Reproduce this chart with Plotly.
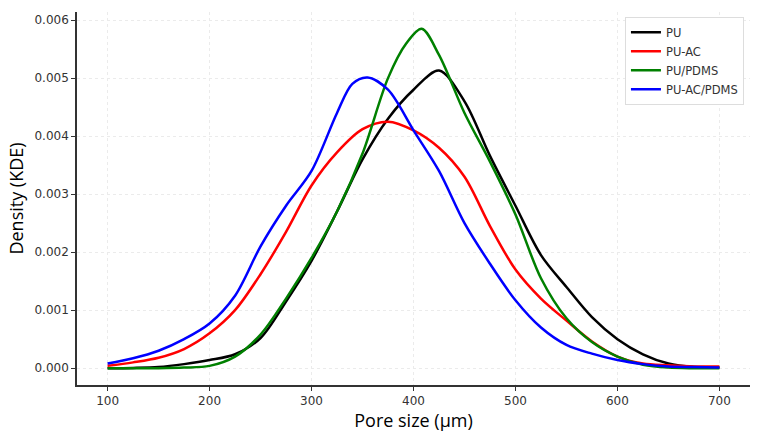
import plotly.graph_objects as go

# ---- data ----
pu_x = [100, 125, 150, 175, 200, 225, 250, 275, 300, 325, 350, 375, 400, 425, 450, 475, 500, 525, 550, 575, 600, 625, 650, 675, 700]
pu_y = [0.0, 0.000005, 0.00002, 0.00007, 0.00014, 0.00024, 0.00052, 0.00115, 0.00185, 0.0027, 0.0036, 0.0043, 0.0048, 0.00513, 0.0046, 0.00366, 0.0028, 0.00195, 0.0014, 0.00088, 0.0005, 0.00024, 0.00008, 0.00002, 0.00001]

pac_x = [100, 125, 150, 175, 200, 225, 250, 275, 300, 325, 350, 375, 400, 425, 450, 475, 500, 525, 550, 575, 600, 625, 650, 675, 700]
pac_y = [0.00004, 0.0001, 0.00018, 0.00033, 0.0006, 0.001, 0.00162, 0.00235, 0.00315, 0.00372, 0.00412, 0.00425, 0.0041, 0.0038, 0.0033, 0.00245, 0.0017, 0.0012, 0.00082, 0.00046, 0.0002, 0.00008, 0.00005, 0.00003, 0.00003]

ppd_x = [100, 125, 150, 175, 200, 225, 250, 275, 300, 325, 350, 375, 393, 408, 425, 450, 475, 500, 525, 550, 575, 600, 625, 650, 675, 700]
ppd_y = [0.0, 0.0, 0.0, 0.00001, 0.00004, 0.0002, 0.00058, 0.0012, 0.0019, 0.0027, 0.0037, 0.005, 0.0056, 0.00585, 0.0054, 0.0044, 0.00356, 0.00265, 0.00155, 0.00086, 0.00045, 0.0002, 0.00006, 0.00001, 0.0, 0.0]

pacpd_x = [100, 125, 150, 175, 200, 225, 250, 275, 300, 325, 340, 355, 375, 400, 425, 450, 475, 500, 525, 550, 575, 600, 625, 650, 675, 700]
pacpd_y = [0.00008, 0.00017, 0.0003, 0.0005, 0.00077, 0.00125, 0.0021, 0.0028, 0.0034, 0.0044, 0.0049, 0.00501, 0.0048, 0.0041, 0.0034, 0.0025, 0.0018, 0.00117, 0.0007, 0.0004, 0.00025, 0.00014, 0.00007, 0.00003, 0.00002, 0.00001]

names = ["PU", "PU-AC", "PU/PDMS", "PU-AC/PDMS"]
colors = ["#000000", "#ff0000", "#008000", "#0000ff"]
xs = [pu_x, pac_x, ppd_x, pacpd_x]
ys = [pu_y, pac_y, ppd_y, pacpd_y]

x_ticks = [100, 200, 300, 400, 500, 600, 700]
y_ticks = [0.0, 0.001, 0.002, 0.003, 0.004, 0.005, 0.006]

fig = go.Figure()
for n, c, x, y in zip(names, colors, xs, ys):
    fig.add_trace(go.Scatter(x=x, y=y, name=n, mode="lines",
                             line=dict(color=c, width=2.5, shape="spline", smoothing=0.9)))

tick_font = dict(family="DejaVu Sans", size=12, color="#333333")
fig.update_layout(
    width=761, height=433,
    margin=dict(l=77, r=11, t=12, b=48),
    paper_bgcolor="white", plot_bgcolor="white",
    showlegend=True,
    legend=dict(x=0.991, y=0.987, xanchor="right", yanchor="top",
                bgcolor="white", bordercolor="#dddddd", borderwidth=1,
                font=dict(family="DejaVu Sans", size=11.5, color="#333333"),
                itemwidth=30, tracegroupgap=0),
    xaxis=dict(range=[70, 730], tickvals=x_ticks, ticktext=[str(v) for v in x_ticks],
               showline=True, linecolor="#333333", linewidth=1.5, mirror=False,
               ticks="outside", ticklen=4, tickcolor="#333333",
               showgrid=True, gridcolor="#ebebeb", griddash="dot", gridwidth=1,
               zeroline=False, tickfont=tick_font, automargin=False,
               title=dict(text="Pore size (μm)", font=dict(family="Open Sans", size=18, color="#000000"), standoff=2)),
    yaxis=dict(range=[-0.00029, 0.00614], tickvals=y_ticks, ticktext=["%.3f" % v for v in y_ticks],
               showline=True, linecolor="#333333", linewidth=1.5, mirror=False,
               ticks="outside", ticklen=4, tickcolor="#333333",
               showgrid=True, gridcolor="#ebebeb", griddash="dot", gridwidth=1,
               zeroline=False, tickfont=tick_font, automargin=False,
               title=dict(text="Density (KDE)", font=dict(family="Open Sans", size=18, color="#000000"), standoff=6)),
)

fig.write_html("out.html")
